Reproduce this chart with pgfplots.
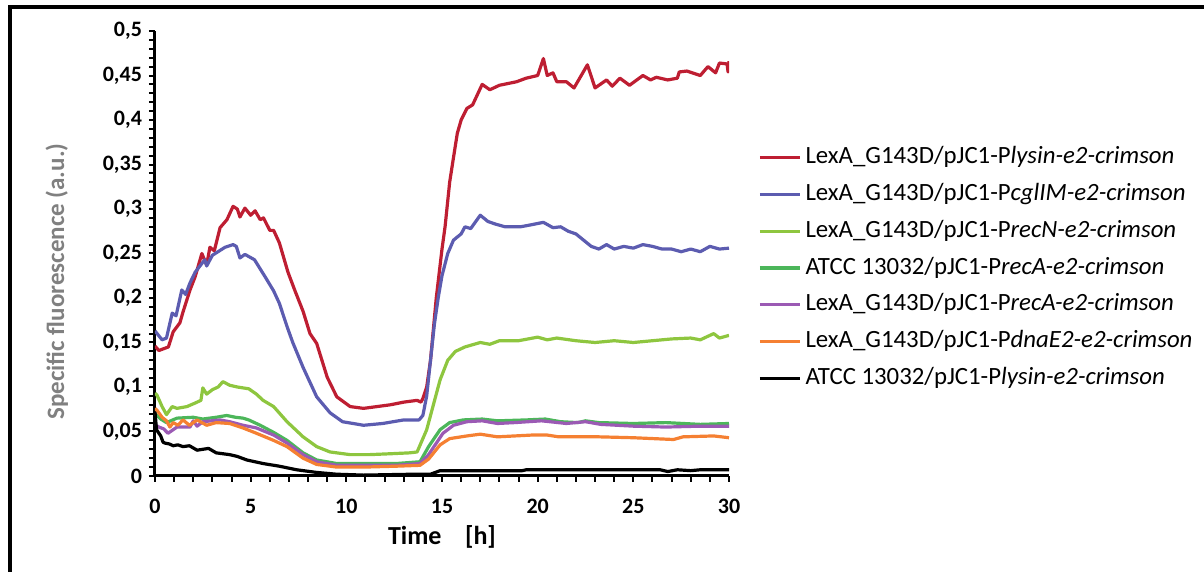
\documentclass[border=0pt]{standalone}
\usepackage{fontspec}
\setmainfont{Carlito}
\usepackage{pgfplots}
\pgfplotsset{compat=1.18}
\definecolor{cred}{RGB}{190,30,50}
\definecolor{cblue}{RGB}{92,92,176}
\definecolor{cyg}{RGB}{142,198,63}
\definecolor{cgreen}{RGB}{76,182,90}
\definecolor{cpurple}{RGB}{155,90,180}
\definecolor{corange}{RGB}{245,128,50}
\definecolor{cgray}{RGB}{128,128,128}
\begin{document}
\begin{tikzpicture}
\useasboundingbox (-77.5pt,-48pt) rectangle (524.5pt,238pt);
\draw[line width=2pt] (-72.25pt,-48pt) -- (-72.25pt,234.25pt) -- (524.5pt,234.25pt);
\begin{axis}[
  at={(0,0)}, anchor=south west,
  scale only axis, width=287pt, height=222.5pt,
  xmin=0, xmax=30, ymin=0, ymax=0.5,
  axis x line*=bottom, axis y line*=left,
  axis line style={line width=1.5pt},
  xtick={0,5,10,15,20,25,30}, minor x tick num=4,
  ytick={0,0.05,0.1,0.15,0.2,0.25,0.3,0.35,0.4,0.45,0.5}, minor y tick num=4,
  tick align=outside,
  major tick length=3pt, minor tick length=3pt,
  tick style={line width=1pt, black},
  minor tick style={line width=1pt, black},
  tick label style={font=\bfseries\fontsize{11}{13}\selectfont},
  /pgf/number format/assume math mode=true,
  yticklabel style={/pgf/number format/.cd, fixed, precision=2, use comma},
  xticklabel style={yshift=-5pt},
  xlabel={Time\ \ \ \ [h]},
  xlabel style={font=\bfseries\fontsize{13}{15}\selectfont, at={(axis description cs:0.5,-0.137)}, anchor=center},
  ylabel={Specific fluorescence (a.u.)},
  ylabel style={font=\bfseries\fontsize{12.5}{15}\selectfont, text=cgray, at={(axis description cs:-0.171,0.437)}, anchor=center},
  legend style={at={(axis description cs:1.040,0.750)}, anchor=north west, draw=none, fill=none,
    font=\fontsize{12.4}{14}\selectfont, row sep=7.4pt,
    nodes={inner sep=0pt, text height=8.5pt, text depth=2.5pt},
    /tikz/every odd column/.append style={column sep=2pt}},
  legend cell align=left,
  legend image code/.code={\draw[#1, line width=1.6pt] (0pt,0pt) -- (20pt,0pt);},
  every axis plot/.append style={line width=1.6pt, line join=round},
]
\addplot[cred] coordinates {
(0,0.146) (0.2,0.141) (0.45,0.143) (0.7,0.145) (0.95,0.162) (1.3,0.172) (1.46,0.184) (1.83,0.209)
(2.1,0.224) (2.45,0.250) (2.7,0.237) (2.87,0.257) (3.1,0.253) (3.4,0.279) (3.76,0.288) (4.08,0.303)
(4.3,0.300) (4.44,0.291) (4.7,0.301) (5.0,0.293) (5.23,0.298) (5.5,0.288) (5.67,0.290) (6.0,0.276)
(6.2,0.276) (6.5,0.262) (6.95,0.229) (7.3,0.209) (7.74,0.185) (8.1,0.160) (8.45,0.149) (9.0,0.111)
(9.5,0.089) (10.2,0.078) (10.9,0.076) (11.6,0.078) (12.3,0.080) (13.0,0.083) (13.7,0.085) (13.9,0.083)
(14.0,0.087) (14.2,0.100) (14.4,0.130) (14.7,0.200) (15.0,0.255) (15.16,0.280) (15.4,0.330) (15.58,0.355)
(15.8,0.385) (16.0,0.400) (16.3,0.413) (16.6,0.417) (17.1,0.440) (17.5,0.434) (18.0,0.439) (18.9,0.443)
(19.4,0.447) (20.0,0.450) (20.3,0.469) (20.5,0.450) (20.8,0.453) (21.0,0.443) (21.5,0.443) (21.9,0.436)
(22.6,0.462) (23.0,0.436) (23.6,0.445) (23.9,0.438) (24.3,0.447) (24.8,0.439) (25.5,0.450) (25.9,0.445)
(26.2,0.448) (26.8,0.445) (27.3,0.447) (27.4,0.454) (27.8,0.455) (28.5,0.450) (28.9,0.460) (29.3,0.453)
(29.5,0.464) (29.9,0.463) (29.95,0.454) (30,0.466)};
\addlegendentry{LexA\_G143D/pJC1-P\textit{lysin-e2-crimson}}
\addplot[cblue] coordinates {
(0,0.163) (0.37,0.153) (0.6,0.155) (0.9,0.183) (1.1,0.180) (1.4,0.209) (1.6,0.204) (1.83,0.217)
(2.1,0.229) (2.6,0.243) (2.7,0.236) (3.0,0.248) (3.66,0.257) (4.08,0.260) (4.25,0.258) (4.44,0.245) (4.7,0.249)
(5.2,0.243) (5.75,0.224) (6.2,0.208) (6.5,0.194) (6.9,0.168) (7.2,0.150) (7.74,0.122) (8.45,0.089)
(9.15,0.071) (9.8,0.061) (10.9,0.057) (11.9,0.059) (13.0,0.063) (13.8,0.063) (14.0,0.068) (14.2,0.090)
(14.4,0.130) (14.6,0.170) (14.8,0.200) (15.0,0.225) (15.3,0.250) (15.6,0.265) (16.0,0.272) (16.2,0.280)
(16.5,0.278) (17.0,0.293) (17.4,0.286) (17.8,0.283) (18.3,0.280) (19.1,0.280) (19.6,0.282) (20.3,0.285)
(20.8,0.279) (21.2,0.280) (21.6,0.275) (22.0,0.272) (22.4,0.265) (22.8,0.258) (23.2,0.255) (23.6,0.260)
(24.0,0.255) (24.5,0.258) (25.0,0.256) (25.5,0.260) (26.0,0.258) (26.5,0.255) (27.0,0.255) (27.5,0.252)
(28.0,0.255) (28.5,0.252) (29.0,0.258) (29.5,0.255) (30,0.256)};
\addlegendentry{LexA\_G143D/pJC1-P\textit{cglIM-e2-crimson}}
\addplot[cyg] coordinates {
(0,0.093) (0.1,0.091) (0.37,0.078) (0.6,0.069) (0.9,0.078) (1.15,0.076) (1.67,0.078) (2.1,0.082)
(2.4,0.085) (2.5,0.099) (2.7,0.092) (3.0,0.097) (3.3,0.100) (3.55,0.106) (3.9,0.102) (4.3,0.100)
(4.6,0.099) (4.9,0.098) (5.3,0.092) (5.65,0.085) (6.2,0.078) (6.9,0.061) (7.74,0.044) (8.45,0.033)
(9.15,0.027) (10.2,0.024) (11.2,0.024) (12.3,0.025) (13.3,0.026) (13.7,0.027) (14.2,0.052) (14.9,0.108)
(15.3,0.130) (15.7,0.140) (16.2,0.145) (17.0,0.150) (17.5,0.148) (18.0,0.152) (19.0,0.152) (20.0,0.156)
(20.5,0.153) (21.0,0.155) (22.0,0.152) (23.0,0.150) (24.0,0.152) (25.0,0.150) (26.0,0.152) (27.0,0.154)
(28.0,0.155) (28.5,0.153) (29.2,0.160) (29.5,0.155) (30,0.158)};
\addlegendentry{LexA\_G143D/pJC1-P\textit{recN-e2-crimson}}
\addplot[cgreen] coordinates {
(0,0.070) (0.3,0.064) (0.6,0.060) (1.15,0.065) (2.0,0.066) (2.5,0.064) (3.2,0.066) (3.75,0.068)
(4.2,0.066) (4.6,0.065) (4.9,0.063) (5.5,0.057) (6.2,0.049) (6.9,0.040) (7.74,0.026) (8.45,0.018)
(9.5,0.014) (10.9,0.014) (12.6,0.014) (13.85,0.016) (14.3,0.033) (14.9,0.052) (15.4,0.060) (16.1,0.063)
(17.1,0.064) (17.9,0.062) (19.4,0.063) (20.4,0.064) (21.2,0.061) (22.1,0.060) (22.5,0.062) (23.2,0.060)
(25.0,0.059) (26.7,0.060) (28.5,0.058) (30,0.059)};
\addlegendentry{ATCC 13032/pJC1-P\textit{recA-e2-crimson}}
\addplot[cpurple] coordinates {
(0,0.058) (0.2,0.055) (0.45,0.053) (0.68,0.048) (1.15,0.055) (1.83,0.055) (2.0,0.062) (2.2,0.056)
(2.5,0.061) (3.4,0.063) (3.9,0.061) (4.6,0.057) (5.3,0.054) (6.2,0.046) (6.9,0.037) (7.74,0.024)
(8.45,0.016) (9.5,0.012) (10.9,0.012) (12.6,0.012) (13.85,0.014) (14.3,0.024) (15.05,0.048) (15.6,0.057)
(16.3,0.061) (17.1,0.062) (17.9,0.059) (18.8,0.060) (20.2,0.062) (21.5,0.059) (22.5,0.061) (23.3,0.058)
(25.0,0.056) (26.7,0.055) (28.5,0.056) (30,0.056)};
\addlegendentry{LexA\_G143D/pJC1-P\textit{recA-e2-crimson}}
\addplot[corange] coordinates {
(0,0.076) (0.1,0.074) (0.37,0.066) (0.6,0.062) (0.78,0.055) (0.95,0.060) (1.2,0.057) (1.46,0.063)
(1.8,0.057) (2.2,0.063) (2.7,0.057) (3.2,0.060) (3.9,0.059) (4.6,0.054) (5.3,0.048) (6.2,0.040)
(6.9,0.033) (7.74,0.020) (8.45,0.013) (9.5,0.010) (10.9,0.010) (12.6,0.011) (13.85,0.012) (14.3,0.019)
(14.9,0.035) (15.4,0.042) (16.3,0.045) (17.0,0.047) (17.9,0.044) (18.8,0.045) (19.7,0.046) (20.5,0.046)
(21.1,0.044) (23.2,0.044) (25.0,0.043) (27.1,0.041) (27.6,0.044) (29.2,0.045) (30,0.043)};
\addlegendentry{LexA\_G143D/pJC1-P\textit{dnaE2-e2-crimson}}
\addplot[black] coordinates {
(0,0.072) (0.08,0.052) (0.3,0.045) (0.42,0.038) (0.52,0.037) (0.75,0.036) (0.95,0.034) (1.2,0.035)
(1.46,0.033) (1.8,0.034) (2.2,0.029) (2.5,0.030) (2.8,0.031) (3.2,0.026) (3.9,0.024) (4.3,0.022)
(4.8,0.018) (5.65,0.014) (6.5,0.011) (7.4,0.007) (8.45,0.004) (9.5,0.002) (10.9,0.001) (13.5,0.002)
(14.4,0.002) (14.9,0.006) (19.2,0.006) (19.4,0.007) (26.4,0.007) (26.8,0.005) (27.3,0.007) (28.0,0.006)
(28.5,0.007) (30,0.007)};
\addlegendentry{ATCC 13032/pJC1-P\textit{lysin-e2-crimson}}
\end{axis}
\end{tikzpicture}
\end{document}
